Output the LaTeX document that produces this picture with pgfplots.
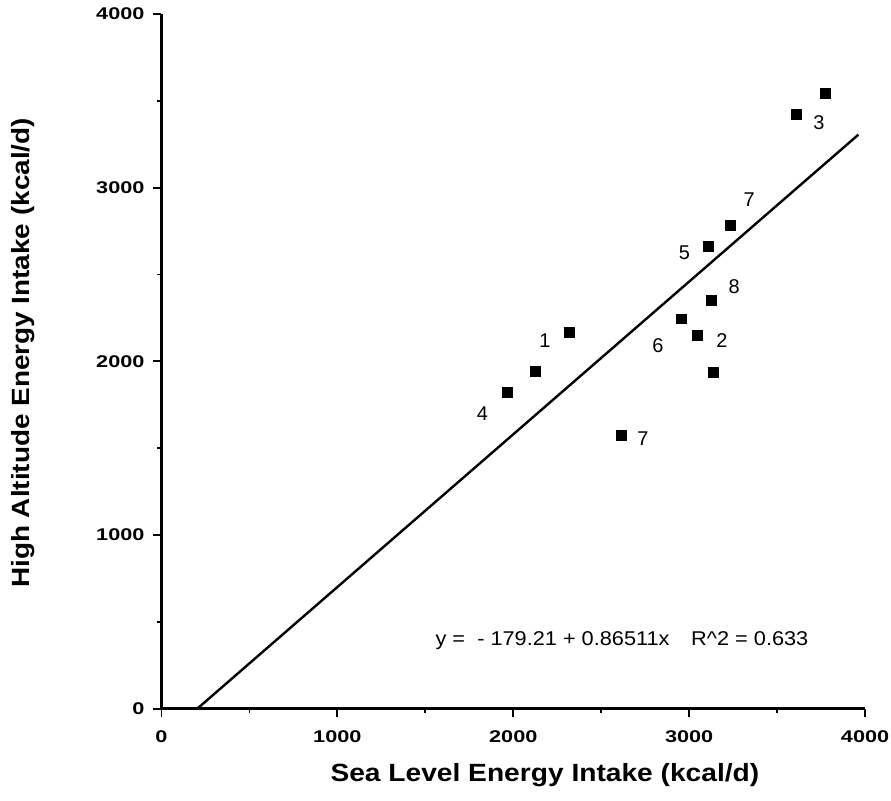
\documentclass[border=0pt]{standalone}
\usepackage{fontspec}
\setmainfont{Liberation Sans}
\usepackage{pgfplots}
\pgfplotsset{compat=1.18}

\begin{document}
\begin{tikzpicture}
\begin{axis}[
  name=ax,
  scale only axis,
  width=353pt, height=348.5pt,
  xmin=0, xmax=4000, ymin=0, ymax=4000,
  axis lines=left,
  axis line style={-, line width=1.2pt},
  xtick={0,1000,2000,3000,4000},
  ytick={0,1000,2000,3000,4000},
  minor xtick={500,1500,2500,3500},
  minor ytick={500,1500,2500,3500},
  tick align=outside,
  major tick length=4pt, minor tick length=2.2pt,
  tick style={line width=0.9pt, black},
  ticklabel style={font=\bfseries\fontsize{8.5}{10}\selectfont, xscale=1.28},
  xticklabel shift=3.5pt,
  /pgf/number format/assume math mode=true,
  /pgf/number format/1000 sep={},
  xlabel={Sea Level Energy Intake (kcal/d)},
  ylabel={High Altitude Energy Intake (kcal/d)},
  label style={font=\bfseries\fontsize{12.5}{14}\selectfont},
  xlabel style={at={(axis description cs:0.545,-0.0961)}, anchor=center, xscale=1.13},
  ylabel style={at={(axis description cs:-0.197,0.512)}, anchor=center, xscale=1.12},
  clip=false,
]
% regression line as drawn
\addplot[black, line width=1.2pt] coordinates {(204,0) (3962,3305)};
% subjects
\addplot[only marks, mark=square*, mark size=2.5pt, black] coordinates {
  (3775,3545) (3611,3420) (3233,2781) (3109,2663)
  (3127,2349) (2954,2244) (3048,2148) (3139,1938)
  (2321,2168) (2126,1944) (1966,1819) (2614,1574)
};
\begin{scope}[every node/.style={font=\fontsize{10}{12}\selectfont}]
\node at (axis cs:3738,3373) {3};
\node at (axis cs:3341,2929) {7};
\node at (axis cs:2973,2627) {5};
\node at (axis cs:3256,2432) {8};
\node at (axis cs:2822,2091) {6};
\node at (axis cs:3186,2119) {2};
\node at (axis cs:2180,2119) {1};
\node at (axis cs:1824,1699) {4};
\node at (axis cs:2737,1555) {7};
\node[xscale=1.09] at (axis cs:2618,390) {y =\ \ - 179.21 + 0.86511x\quad R\textasciicircum 2 = 0.633};
\end{scope}
\end{axis}
\pgfresetboundingbox
\useasboundingbox ([shift={(-81pt,-46pt)}]ax.south west) rectangle ([shift={(13pt,7pt)}]ax.north east);
\end{tikzpicture}
\end{document}
